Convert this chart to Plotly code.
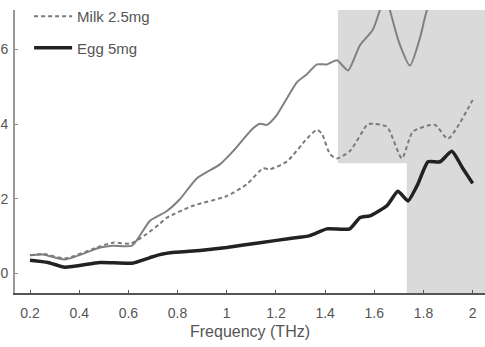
import plotly.graph_objects as go

# Upper solid gray curve (legend entry cut off in reference)
f_top = [0.2, 0.253, 0.342, 0.485, 0.537, 0.615, 0.688, 0.757, 0.810, 0.879, 0.972, 1.025,
         1.106, 1.135, 1.163, 1.204, 1.285, 1.326, 1.367, 1.407, 1.448, 1.493, 1.541, 1.594,
         1.623, 1.645, 1.663, 1.700, 1.745, 1.785, 1.814, 1.86, 1.92, 1.97, 2.0]
v_top = [0.48, 0.50, 0.37, 0.69, 0.74, 0.74, 1.41, 1.67, 1.99, 2.55, 2.92, 3.27,
         3.88, 4.01, 3.98, 4.25, 5.12, 5.34, 5.60, 5.60, 5.71, 5.44, 6.11, 6.53,
         7.06, 7.4, 7.06, 6.2, 5.57, 6.3, 7.06, 7.8, 8.2, 8.1, 7.9]

# Milk 2.5mg (dashed)
f_milk = [0.2, 0.253, 0.342, 0.485, 0.537, 0.61, 0.676, 0.728, 0.757, 0.863, 1.0, 1.082,
          1.147, 1.176, 1.245, 1.326, 1.367, 1.387, 1.42, 1.448, 1.50, 1.57, 1.582, 1.651,
          1.712, 1.757, 1.846, 1.899, 2.0]
v_milk = [0.48, 0.52, 0.40, 0.72, 0.82, 0.80, 1.06, 1.33, 1.49, 1.81, 2.07, 2.39,
          2.81, 2.79, 3.0, 3.61, 3.85, 3.74, 3.19, 3.08, 3.27, 3.98, 4.01, 3.93,
          3.08, 3.80, 3.98, 3.61, 4.65]

# Egg 5mg (thick black)
f_egg = [0.2, 0.273, 0.342, 0.485, 0.615, 0.688, 0.728, 0.789, 0.891, 1.0, 1.135, 1.257,
         1.338, 1.407, 1.50, 1.541, 1.582, 1.651, 1.696, 1.737, 1.777, 1.818, 1.867, 1.915,
         1.96, 2.0]
v_egg = [0.35, 0.29, 0.16, 0.29, 0.27, 0.42, 0.50, 0.56, 0.61, 0.69, 0.82, 0.93,
         1.01, 1.19, 1.19, 1.49, 1.54, 1.81, 2.20, 1.94, 2.39, 2.99, 2.99, 3.27,
         2.81, 2.41]

x_ticks = [0.2, 0.4, 0.6, 0.8, 1.0, 1.2, 1.4, 1.6, 1.8, 2.0]
x_tick_text = ["0.2", "0.4", "0.6", "0.8", "1", "1.2", "1.4", "1.6", "1.8", "2"]
y_ticks = [0, 2, 4, 6]
y_tick_text = ["0", "2", "4", "6"]

shade1 = (1.452, 2.95)
shade2 = 1.732

fig = go.Figure()
fig.add_trace(go.Scatter(x=f_top, y=v_top, mode="lines", showlegend=False,
                         line=dict(color="#808080", width=2, shape="spline", smoothing=0.6)))
fig.add_trace(go.Scatter(x=f_milk, y=v_milk, mode="lines", name="Milk 2.5mg", legendgroup="a",
                         line=dict(color="#7a7a7a", width=2, dash="4px,3px", shape="spline", smoothing=0.6)))
fig.add_trace(go.Scatter(x=f_egg, y=v_egg, mode="lines", name="Egg 5mg", legendgroup="b",
                         line=dict(color="#222222", width=3.5, shape="spline", smoothing=0.5)))

fig.update_layout(
    width=485, height=347,
    margin=dict(l=15, r=0, t=7, b=54),
    paper_bgcolor="white", plot_bgcolor="white",
    font=dict(family="Liberation Sans, Arial, sans-serif", size=14, color="#555555"),
    showlegend=True,
    legend=dict(x=0.03, y=1.035, xanchor="left", yanchor="top", bgcolor="rgba(0,0,0,0)",
                tracegroupgap=9, itemwidth=38, font=dict(size=15, color="#555555")),
    shapes=[
        dict(type="rect", xref="x", yref="y", x0=shade1[0], x1=2.2, y0=shade1[1], y1=9,
             fillcolor="#dadada", line=dict(width=0), layer="below"),
        dict(type="rect", xref="x", yref="y", x0=shade2, x1=2.2, y0=-1, y1=9,
             fillcolor="#dadada", line=dict(width=0), layer="below"),
    ],
)
fig.update_xaxes(range=[0.139, 2.05], tickvals=x_ticks, ticktext=x_tick_text,
                 ticks="inside", ticklen=3, tickcolor="#555555", showline=True,
                 linecolor="#555555", linewidth=2, showgrid=False, zeroline=False,
                 title=dict(text="Frequency (THz)", font=dict(size=16, color="#555555"), standoff=6),
                 tickfont=dict(size=14, color="#555555"), ticklabelstandoff=6)
fig.update_yaxes(range=[-0.53, 7.06], tickvals=y_ticks, ticktext=y_tick_text,
                 ticks="inside", ticklen=3, tickcolor="#888888", showline=True,
                 linecolor="#999999", linewidth=2, showgrid=False, zeroline=False,
                 automargin=False,
                 tickfont=dict(size=14, color="#555555"), ticklabelstandoff=2)

fig.write_html("out.html")
